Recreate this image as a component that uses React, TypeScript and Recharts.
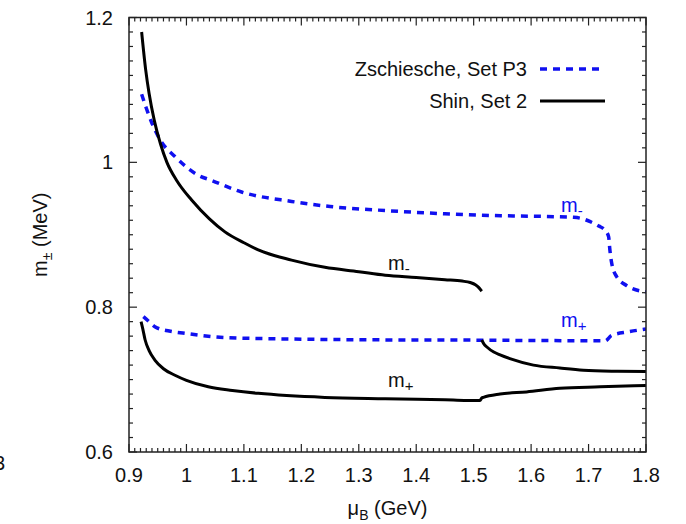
import React from "react";
import { LineChart, Line, XAxis, YAxis } from "recharts";

const FONT = "'Liberation Sans', Arial, Helvetica, sans-serif";
const BLUE = "#1010f0";
const INK = "#111";
const FRAME = "#222";

const W = 686;
const H = 524;
const MARGIN = { top: 17.5, right: 40, bottom: 42, left: 69 };
const Y_AXIS_W = 60;
const X_AXIS_H = 30;
const PLOT_X = MARGIN.left + Y_AXIS_W;
const PLOT_Y = MARGIN.top;
const PLOT_W = W - PLOT_X - MARGIN.right;
const PLOT_H = H - PLOT_Y - MARGIN.bottom - X_AXIS_H;

const X_DOMAIN: [number, number] = [0.9, 1.8];
const Y_DOMAIN: [number, number] = [0.6, 1.2];

// axis ticks
const xMajor = [0.9, 1.0, 1.1, 1.2, 1.3, 1.4, 1.5, 1.6, 1.7, 1.8];
const yMajor = [0.6, 0.8, 1.0, 1.2];

const legendItems = [
  { name: "Zschiesche, Set P3", color: BLUE, dash: "7 6", width: 3.5 },
  { name: "Shin, Set 2", color: "#000", dash: undefined, width: 3 },
];

// Zschiesche, Set P3 : [mu_B (GeV), m (MeV)]
const zsMinus: [number, number][] = [
  [0.922, 1.094], [0.93, 1.075], [0.94, 1.054], [0.955, 1.03], [0.98, 1.008],
  [1.021, 0.982], [1.044, 0.975], [1.096, 0.959], [1.183, 0.946], [1.25, 0.939],
  [1.334, 0.934], [1.45, 0.929], [1.511, 0.927], [1.569, 0.926], [1.64, 0.925],
  [1.674, 0.924], [1.69, 0.922], [1.703, 0.918], [1.718, 0.912], [1.729, 0.906],
  [1.735, 0.897], [1.737, 0.88], [1.74, 0.862], [1.749, 0.842], [1.766, 0.83],
  [1.8, 0.821],
];
const zsPlus: [number, number][] = [
  [0.925, 0.787], [0.935, 0.78], [0.945, 0.773], [0.97, 0.767], [0.997, 0.764],
  [1.067, 0.758], [1.183, 0.756], [1.35, 0.7548], [1.5, 0.7545], [1.6, 0.754],
  [1.729, 0.7536], [1.74, 0.761], [1.77, 0.766], [1.8, 0.77],
];

// Shin, Set 2
const shinMinus: [number, number][] = [
  [0.922, 1.18], [0.929, 1.128], [0.935, 1.095], [0.944, 1.058], [0.955, 1.025],
  [0.966, 1.0], [0.983, 0.975], [1.009, 0.948], [1.04, 0.922], [1.067, 0.904],
  [1.1, 0.889], [1.125, 0.879], [1.183, 0.865], [1.241, 0.855], [1.3, 0.849],
  [1.346, 0.844], [1.4, 0.841], [1.45, 0.838], [1.48, 0.836], [1.494, 0.834],
  [1.503, 0.831], [1.509, 0.827], [1.514, 0.822],
];
const shinPlus: [number, number][] = [
  [0.921, 0.78], [0.924, 0.77], [0.928, 0.755], [0.935, 0.74], [0.945, 0.727],
  [0.96, 0.715], [0.98, 0.706], [1.0, 0.699], [1.038, 0.69], [1.08, 0.685],
  [1.125, 0.681], [1.241, 0.6754], [1.346, 0.6735], [1.45, 0.672], [1.511, 0.671],
  [1.514, 0.6745], [1.517, 0.6754], [1.546, 0.68], [1.592, 0.683], [1.65, 0.688],
  [1.72, 0.69], [1.8, 0.692],
];
const shinUpper: [number, number][] = [
  [1.514, 0.7546], [1.518, 0.749], [1.523, 0.745], [1.535, 0.738], [1.546, 0.734],
  [1.563, 0.729], [1.604, 0.72], [1.65, 0.716], [1.691, 0.713], [1.75, 0.7115],
  [1.8, 0.711],
];

// curve labels: [mu_B, m] of the text start
const curveLabels = [
  { at: [1.351, 0.851], sub: "-", color: INK },
  { at: [1.351, 0.69], sub: "+", color: INK },
  { at: [1.652, 0.932], sub: "-", color: BLUE },
  { at: [1.652, 0.773], sub: "+", color: BLUE },
];

const toRows = (pts: [number, number][]) => pts.map(([mu, m]) => ({ mu, m }));

function subdivide(majors: number[], n: number) {
  const out: number[] = [];
  for (let i = 0; i < majors.length - 1; i++) {
    const step = (majors[i + 1] - majors[i]) / n;
    for (let k = 0; k < n; k++) out.push(+(majors[i] + k * step).toFixed(3));
  }
  out.push(majors[majors.length - 1]);
  return out;
}
const xTicks = subdivide(xMajor, 10);
const yTicks = subdivide(yMajor, 10);
const isMajor = (v: number, majors: number[]) => majors.some((t) => Math.abs(t - v) < 1e-6);

// same linear mapping as the chart's axes, for the frame and overlay text
const sx = (v: number) => PLOT_X + ((v - X_DOMAIN[0]) / (X_DOMAIN[1] - X_DOMAIN[0])) * PLOT_W;
const sy = (v: number) => PLOT_Y + ((Y_DOMAIN[1] - v) / (Y_DOMAIN[1] - Y_DOMAIN[0])) * PLOT_H;

function XTick({ x, y, payload }: any) {
  return (
    <text x={Number(x)} y={Number(y) + 30} textAnchor="middle" fontSize={20} fontFamily={FONT} fill={INK}>
      {String(payload.value)}
    </text>
  );
}

function YTick({ x, y, payload }: any) {
  return (
    <text x={Number(x) - 16} y={Number(y) + 7} textAnchor="end" fontSize={20} fontFamily={FONT} fill={INK}>
      {String(payload.value)}
    </text>
  );
}

// frame with inward ticks on all four sides, axis titles and curve labels
function Overlay() {
  const cx = PLOT_X + PLOT_W / 2;
  const cy = PLOT_Y + PLOT_H / 2;
  const yx = PLOT_X - 82;
  const bottom = PLOT_Y + PLOT_H;
  const right = PLOT_X + PLOT_W;
  return (
    <svg
      width={W}
      height={H}
      style={{ position: "absolute", left: 0, top: 0, pointerEvents: "none" }}
    >
      <g stroke={FRAME} strokeWidth={1.2}>
        {xTicks.map((v) => {
          const len = isMajor(v, xMajor) ? 8 : 4;
          const x = sx(v);
          return (
            <g key={`x${v}`}>
              <line x1={x} x2={x} y1={bottom} y2={bottom - len} />
              <line x1={x} x2={x} y1={PLOT_Y} y2={PLOT_Y + len} />
            </g>
          );
        })}
        {yTicks.map((v) => {
          const len = isMajor(v, yMajor) ? 8 : 4;
          const y = sy(v);
          return (
            <g key={`y${v}`}>
              <line x1={PLOT_X} x2={PLOT_X + len} y1={y} y2={y} />
              <line x1={right} x2={right - len} y1={y} y2={y} />
            </g>
          );
        })}
      </g>
      <rect x={PLOT_X} y={PLOT_Y} width={PLOT_W} height={PLOT_H} fill="none" stroke={FRAME} strokeWidth={1.5} />
      <text x={cx} y={bottom + 63} textAnchor="middle" fontSize={20} fontFamily={FONT} fill={INK}>
        μ<tspan fontSize={14} dy={5}>B</tspan>
        <tspan dy={-5}> (GeV)</tspan>
      </text>
      <text
        x={yx}
        y={cy}
        transform={`rotate(-90, ${yx}, ${cy})`}
        textAnchor="middle"
        fontSize={20}
        fontFamily={FONT}
        fill={INK}
      >
        m<tspan fontSize={14} dy={5}>±</tspan>
        <tspan dy={-5}> (MeV)</tspan>
      </text>
      {curveLabels.map((l, i) => (
        <text key={i} x={sx(l.at[0])} y={sy(l.at[1])} fontSize={20} fontFamily={FONT} fill={l.color}>
          m<tspan fontSize={15} dy={4}>{l.sub}</tspan>
        </text>
      ))}
    </svg>
  );
}

function LegendBox() {
  return (
    <div
      style={{
        position: "absolute",
        left: 335,
        top: 53,
        width: 270,
        fontFamily: FONT,
        fontSize: 20,
        color: INK,
      }}
    >
      {legendItems.map((e) => (
        <div
          key={e.name}
          style={{ display: "flex", alignItems: "center", justifyContent: "flex-end", height: 32 }}
        >
          <span style={{ marginRight: 13, lineHeight: "20px" }}>{e.name}</span>
          <svg width={65} height={8}>
            <line x1={0} x2={65} y1={4} y2={4} stroke={e.color} strokeWidth={e.width} strokeDasharray={e.dash} />
          </svg>
        </div>
      ))}
    </div>
  );
}

export default function App() {
  return (
    <div style={{ position: "absolute", left: 0, top: 0, width: W, height: H }}>
      <LineChart width={W} height={H} margin={MARGIN}>
        <XAxis
          dataKey="mu"
          type="number"
          domain={X_DOMAIN}
          allowDataOverflow
          ticks={xMajor}
          interval={0}
          height={X_AXIS_H}
          tickSize={0}
          tickMargin={0}
          tickLine={false}
          axisLine={false}
          tick={(p: any) => <XTick {...p} />}
        />
        <YAxis
          dataKey="m"
          type="number"
          domain={Y_DOMAIN}
          allowDataOverflow
          ticks={yMajor}
          interval={0}
          width={Y_AXIS_W}
          tickSize={0}
          tickMargin={0}
          tickLine={false}
          axisLine={false}
          tick={(p: any) => <YTick {...p} />}
        />
        <Line data={toRows(zsMinus)} dataKey="m" type="monotone" stroke={BLUE} strokeWidth={3.5}
          strokeDasharray="7 6" dot={false} isAnimationActive={false} />
        <Line data={toRows(zsPlus)} dataKey="m" type="monotone" stroke={BLUE} strokeWidth={3.5}
          strokeDasharray="7 6" dot={false} isAnimationActive={false} />
        <Line data={toRows(shinMinus)} dataKey="m" type="monotone" stroke="#000" strokeWidth={3}
          dot={false} isAnimationActive={false} />
        <Line data={toRows(shinPlus)} dataKey="m" type="monotone" stroke="#000" strokeWidth={3}
          dot={false} isAnimationActive={false} />
        <Line data={toRows(shinUpper)} dataKey="m" type="monotone" stroke="#000" strokeWidth={3}
          dot={false} isAnimationActive={false} />
      </LineChart>
      <Overlay />
      <LegendBox />
      <span
        style={{
          position: "absolute",
          left: -6,
          top: 451,
          fontFamily: FONT,
          fontSize: 20,
          lineHeight: "24px",
          color: INK,
        }}
      >
        3
      </span>
    </div>
  );
}
